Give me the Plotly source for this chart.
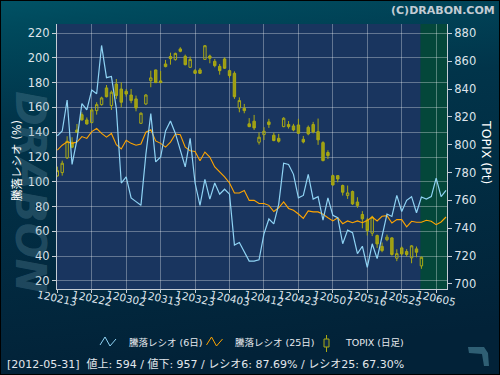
import base64
import plotly.graph_objects as go

# ---------------- data ----------------
tick_labels = ["120213", "120222", "120302", "120313", "120323", "120403",
               "120412", "120423", "120507", "120516", "120525", "120605"]
tick_index = [0, 7, 14, 21, 28, 35, 42, 49, 56, 63, 70, 77]

ratio6 = [137, 141, 166, 114, 134, 163, 158, 174, 171, 210,
          184, 185, 159, 99, 104, 87, 84, 81, 122, 155,
          116, 120, 141, 149, 139, 125, 112, 135, 99, 81,
          102, 86, 99, 90, 94, 90, 49, 51, 44, 36,
          36, 37, 58, 70, 66, 82, 115, 114, 106, 87,
          89, 106, 86, 88, 69, 87, 73, 71, 50, 61,
          59, 42, 48, 31, 50, 38, 56, 74, 72, 89,
          76, 85, 88, 75, 87.7, 86, 88, 103, 88, 93]

ratio25 = [125.5, 129.5, 132.3, 131, 132, 136.5, 135, 140.5, 143, 139,
           136, 139, 130, 126.5, 133.5, 131, 129.5, 130.5, 140, 142,
           133, 131, 128, 132, 138.5, 138, 128, 125, 124.5, 117,
           124, 120, 112, 108, 104, 99, 91, 91, 93, 85,
           85, 82.5, 82.5, 81, 76, 79, 83.7, 78.5, 77, 74,
           70.5, 76.5, 75.7, 75.7, 73.8, 71, 68.4, 71, 66.2, 68.4,
           67, 68.4, 67, 68.8, 71.6, 68.4, 72.2, 72.7, 66.8, 69.5,
           69.5, 63.6, 68.1, 67.3, 67.3, 68.9, 68.1, 65.4, 67.6, 71.6]

topix_open = [777.6, 780.0, 790.5, 801.8, 810.6, 821.6, 817.8, 815.9, 824.5, 828.8,
              840.8, 828.1, 843.6, 840.0, 838.4, 835.7, 832.9, 815.4, 829.3, 846.0,
              853.7, 845.8, 858.0, 863.3, 861.1, 868.8, 863.5, 855.6, 853.2, 853.7,
              861.3, 863.7, 859.9, 856.3, 861.6, 853.2, 851.3, 826.4, 826.2, 815.0,
              816.9, 801.8, 807.3, 816.4, 806.8, 804.6, 813.0, 814.5, 813.5, 814.2,
              803.9, 812.5, 814.5, 809.4, 801.5, 794.4, 777.8, 777.8, 770.7, 763.5,
              766.4, 758.9, 749.9, 746.0, 736.5, 734.8, 727.0, 731.8, 733.1, 718.5,
              725.9, 723.3, 718.8, 725.2, 713.0]
topix_high = [784.3, 788.6, 806.1, 805.4, 814.9, 823.3, 819.6, 826.2, 830.5, 834.5,
              842.9, 838.9, 847.2, 844.8, 840.0, 840.0, 835.3, 823.3, 836.4, 853.2,
              853.9, 853.0, 860.9, 866.1, 866.1, 870.0, 864.7, 863.3, 854.4, 855.1,
              871.6, 864.7, 861.6, 858.0, 862.8, 853.9, 852.7, 834.0, 829.3, 819.1,
              821.4, 808.9, 812.6, 818.6, 808.7, 807.8, 819.8, 817.0, 815.0, 818.6,
              806.3, 813.8, 816.4, 818.8, 802.5, 796.0, 778.5, 778.0, 771.4, 770.7,
              767.1, 762.3, 752.3, 747.5, 749.0, 735.5, 729.8, 735.5, 733.6, 724.9,
              726.9, 725.0, 727.9, 726.9, 719.7]
topix_low = [777.1, 777.8, 789.8, 797.5, 808.5, 817.3, 814.5, 815.4, 821.6, 828.1,
             834.0, 825.0, 832.9, 826.9, 834.5, 829.8, 824.0, 814.9, 828.6, 841.3,
             844.3, 844.3, 855.6, 857.5, 860.4, 866.4, 857.0, 855.1, 850.8, 850.8,
             860.9, 858.5, 855.6, 850.3, 854.4, 848.0, 832.9, 823.3, 822.6, 812.6,
             810.6, 800.1, 803.4, 812.1, 802.5, 801.5, 812.6, 811.6, 809.7, 807.8,
             801.0, 806.8, 808.2, 799.9, 788.1, 789.8, 770.7, 773.0, 763.5, 761.1,
             756.8, 754.7, 740.0, 734.8, 734.4, 725.9, 722.8, 730.7, 720.4, 716.4,
             720.4, 719.7, 714.9, 719.2, 710.9]
topix_close = [781.4, 786.7, 802.5, 798.2, 808.9, 817.8, 814.9, 825.0, 828.8, 833.6,
               834.5, 837.7, 835.3, 830.5, 836.4, 831.7, 826.4, 822.6, 835.7, 848.0,
               844.6, 844.6, 856.1, 861.8, 865.6, 867.1, 857.5, 861.3, 851.3, 851.3,
               871.1, 862.1, 856.8, 853.2, 854.9, 849.6, 834.5, 831.7, 824.5, 813.0,
               812.1, 805.4, 809.7, 814.5, 803.0, 802.5, 819.0, 813.0, 810.6, 808.2,
               802.0, 807.8, 809.2, 803.5, 788.6, 792.2, 771.1, 775.4, 765.9, 765.4,
               757.5, 756.3, 746.8, 738.4, 748.0, 728.8, 724.0, 733.6, 721.2, 721.8,
               721.6, 721.2, 727.4, 722.8, 719.2]

status_text = ("[2012-05-31]\u00a0 値上: 594 / 値下: 957 / "
               "レシオ6: 87.69% / レシオ25: 67.30%")

line_days = list(range(len(ratio6)))
candle_days = list(range(len(topix_open)))

# ---------------- geometry helpers (decoration only) ----------------
W, H = 500, 375
ML, MR, MT, MB = 57, 53, 24, 86
PW, PH = W - ML - MR, H - MT - MB


def px(x):
    return (x - ML) / PW


def py(y):
    return (H - MB - y) / PH


FONT = "DejaVu Sans, Noto Sans CJK JP, sans-serif"
TXT = "#dde3ea"
AX = "#c5ccd4"
GRID = "rgba(255,255,255,0.32)"

fig = go.Figure()

fig.add_trace(go.Candlestick(
    x=candle_days, open=topix_open, high=topix_high, low=topix_low, close=topix_close,
    name="TOPIX (日足)", yaxis="y", whiskerwidth=0,
    increasing=dict(line=dict(color="#a9a914", width=1), fillcolor="rgba(0,0,0,0)"),
    decreasing=dict(line=dict(color="#a9a914", width=1), fillcolor="#9d9d12"),
    showlegend=False, hoverinfo="skip"))

fig.add_trace(go.Scatter(x=line_days, y=ratio25, mode="lines", yaxis="y2",
                         name="騰落レシオ (25日)",
                         line=dict(color="#ffa500", width=1.1), showlegend=False))
fig.add_trace(go.Scatter(x=line_days, y=ratio6, mode="lines", yaxis="y2",
                         name="騰落レシオ (6日)",
                         line=dict(color="#8fd3f4", width=1.2), showlegend=False))

# background gradient
grad_svg = ('<svg xmlns="http://www.w3.org/2000/svg" width="500" height="375">'
            '<defs><linearGradient id="g" x1="0" y1="0" x2="0.15" y2="1">'
            '<stop offset="0" stop-color="#005265"/>'
            '<stop offset="0.07" stop-color="#004a5d"/>'
            '<stop offset="0.32" stop-color="#01344a"/>'
            '<stop offset="1" stop-color="#022238"/>'
            '</linearGradient></defs>'
            '<rect width="500" height="375" fill="url(#g)"/></svg>')
grad_src = "data:image/svg+xml;base64," + base64.b64encode(grad_svg.encode()).decode()

shapes = [
    dict(type="rect", xref="paper", yref="paper", x0=0, x1=1, y0=0, y1=1,
         fillcolor="#19355f", line=dict(width=0), layer="below"),
    dict(type="rect", xref="x", yref="paper", x0=73.8, x1=79.2, y0=0, y1=1,
         fillcolor="#04473a", line=dict(width=0), layer="below"),
    # legend icons
    dict(type="path", xref="paper", yref="paper",
         path="M {:.4f},{:.4f} L {:.4f},{:.4f} L {:.4f},{:.4f} L {:.4f},{:.4f}".format(
             px(100), py(345), px(105), py(337), px(110), py(346), px(116), py(339)),
         line=dict(color="#8fd3f4", width=1)),
    dict(type="path", xref="paper", yref="paper",
         path="M {:.4f},{:.4f} L {:.4f},{:.4f} L {:.4f},{:.4f} L {:.4f},{:.4f}".format(
             px(206.5), py(345), px(211.5), py(337), px(216.5), py(346), px(222.5), py(339)),
         line=dict(color="#ffa500", width=1)),
    dict(type="line", xref="paper", yref="paper", x0=px(326.5), x1=px(326.5),
         y0=py(335), y1=py(352), line=dict(color="#a9a914", width=1)),
    dict(type="rect", xref="paper", yref="paper", x0=px(324), x1=px(329),
         y0=py(347), y1=py(339), fillcolor="#0d2a48", line=dict(color="#a9a914", width=1)),
    # small logo bottom right
    dict(type="path", xref="paper", yref="paper",
         path="M {:.4f},{:.4f} L {:.4f},{:.4f} L {:.4f},{:.4f} L {:.4f},{:.4f} L {:.4f},{:.4f} L {:.4f},{:.4f} L {:.4f},{:.4f} Z".format(
             px(468), py(347), px(484), py(347), px(488), py(353), px(489), py(366),
             px(484), py(366), px(482), py(354), px(469), py(353)),
         fillcolor="#2f5f74", line=dict(width=0)),
    # outer border
    dict(type="rect", xref="paper", yref="paper", x0=px(0), x1=px(W), y0=py(H), y1=py(0),
         line=dict(color="#000000", width=2), fillcolor="rgba(0,0,0,0)"),
]

annotations = []
# watermark
annotations.append(dict(text="<b><i>DRABON</i></b>", x=px(31), y=py(192), xref="paper",
                        yref="paper", showarrow=False, textangle=90,
                        font=dict(family="DejaVu Sans", size=42,
                                  color="rgba(105,150,170,0.30)"),
                        xanchor="center", yanchor="middle"))
# x tick labels
for idx, lab in zip(tick_index, tick_labels):
    annotations.append(dict(text=lab, x=idx, xref="x", y=py(298), yref="paper",
                            showarrow=False, textangle=12,
                            font=dict(family=FONT, size=10.5, color=TXT),
                            xanchor="center", yanchor="middle"))
# axis titles
annotations.append(dict(text="騰落レシオ (%)", x=px(17), y=py(161), xref="paper", yref="paper",
                        showarrow=False, textangle=-90,
                        font=dict(family=FONT, size=11.5, color="#ffffff"),
                        xanchor="center", yanchor="middle"))
annotations.append(dict(text="TOPIX (Pt)", x=px(487), y=py(152), xref="paper", yref="paper",
                        showarrow=False, textangle=90,
                        font=dict(family=FONT, size=12.5, color="#ffffff"),
                        xanchor="center", yanchor="middle"))
# legend texts
for txt, xp in [("騰落レシオ (6日)", 126.5), ("騰落レシオ (25日)", 232.5), ("TOPIX (日足)", 343)]:
    annotations.append(dict(text=txt, x=px(xp), y=py(342.5), xref="paper", yref="paper",
                            showarrow=False, font=dict(family=FONT, size=9.5, color="#e6e9ee"),
                            xanchor="left", yanchor="middle"))
# status line
annotations.append(dict(text=status_text, x=px(5), y=py(364), xref="paper", yref="paper",
                        showarrow=False, font=dict(family=FONT, size=11, color="#e3e7ec"),
                        xanchor="left", yanchor="middle"))
# copyright
annotations.append(dict(text="<b>(C)DRABON.COM</b>", x=px(497), y=py(10), xref="paper",
                        yref="paper", showarrow=False,
                        font=dict(family="DejaVu Sans", size=11, color="#c3ccd4"),
                        xanchor="right", yanchor="middle"))

fig.update_layout(
    width=W, height=H,
    margin=dict(l=ML, r=MR, t=MT, b=MB, pad=0),
    paper_bgcolor="#022238",
    plot_bgcolor="rgba(0,0,0,0)",
    showlegend=False,
    images=[dict(source=grad_src, xref="paper", yref="paper", x=px(0), y=py(0),
                 sizex=W / PW, sizey=H / PH, sizing="stretch", layer="below",
                 xanchor="left", yanchor="top")],
    shapes=shapes,
    annotations=annotations,
    xaxis=dict(range=[-0.06, 79.2], tickvals=tick_index, showticklabels=False,
               ticks="outside", ticklen=3, tickcolor=AX, showline=True, linecolor=AX,
               linewidth=1, showgrid=True, gridcolor=GRID, gridwidth=1, zeroline=False,
               rangeslider=dict(visible=False), fixedrange=True),
    yaxis=dict(range=[696.4, 886.7], side="right", tickvals=list(range(700, 881, 20)),
               ticks="outside", ticklen=4, tickcolor=AX, showline=True, linecolor=AX,
               linewidth=1, showgrid=False, zeroline=False,
               tickfont=dict(family=FONT, size=11.5, color=TXT)),
    yaxis2=dict(range=[13.5, 227.3], side="left", overlaying="y",
                tickvals=list(range(20, 221, 20)), ticks="outside", ticklen=4,
                tickcolor=AX, showline=True, linecolor=AX, linewidth=1,
                showgrid=True, gridcolor=GRID, gridwidth=1, zeroline=False,
                tickfont=dict(family=FONT, size=11.5, color=TXT)),
)

fig.write_html("out.html", config={"displayModeBar": False},
               post_script="document.body.style.margin='0';document.body.style.padding='0';"
                           "document.body.style.overflow='hidden';")
